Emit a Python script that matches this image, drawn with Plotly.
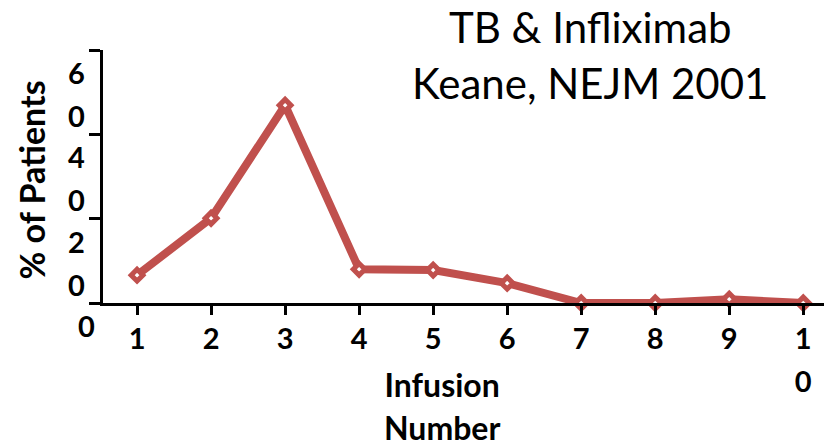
import plotly.graph_objects as go

# ---- data ----
infusion = [1, 2, 3, 4, 5, 6, 7, 8, 9, 10]
x_ticktext = ["1", "2", "3", "4", "5", "6", "7", "8", "9", "1<br>0"]
pct_patients = [6.6, 20.1, 46.9, 8.0, 7.8, 4.7, 0.0, 0.0, 0.9, 0.0]
y_tickvals = [0, 20, 40, 60]
y_ticktext = ["0", "2<br>0", "4<br>0", "6<br>0"]

title_lines = ["TB &amp; Infliximab", "Keane, NEJM 2001"]
x_title_lines = ["Infusion", "Number"]
y_title = "% of Patients"

RED = "#C0504D"
FONT = "Lato"


def spaced(lines, inner):
    return "<br>".join(f"<span style='font-size:{inner}px'>{l}</span>" for l in lines)


fig = go.Figure()
fig.add_trace(go.Scatter(
    x=infusion, y=pct_patients, mode="lines+markers",
    line=dict(color=RED, width=8),
    marker=dict(symbol="diamond", size=9, color="white",
                line=dict(color=RED, width=5)),
    cliponaxis=False, showlegend=False,
))

tick_font_outer = 33
tick_font_inner = 29

fig.update_layout(
    width=824, height=447,
    margin=dict(l=103, r=0, t=50, b=144),
    paper_bgcolor="white", plot_bgcolor="white",
    font=dict(family=FONT, color="black"),
    xaxis=dict(
        range=[0.54, 10.28],
        tickvals=infusion,
        ticktext=[spaced(t.split("<br>"), tick_font_inner) for t in x_ticktext],
        tickfont=dict(family=FONT, size=tick_font_outer, color="black", weight="bold"),
        showline=True, linecolor="black", linewidth=3,
        ticks="outside", ticklen=9, tickwidth=3, tickcolor="black",
        showgrid=False, zeroline=False, ticklabelstandoff=-6,
    ),
    yaxis=dict(
        range=[0, 60],
        tickvals=y_tickvals,
        showticklabels=False,
        showline=True, linecolor="black", linewidth=3,
        ticks="outside", ticklen=11, tickwidth=3, tickcolor="black",
        showgrid=False, zeroline=False,
    ),
)

annotations = []
for v, t in zip(y_tickvals, y_ticktext):
    lines = t.split("<br>")
    annotations.append(dict(
        xref="paper", yref="y", x=0, y=v,
        xanchor="right", yanchor="top",
        xshift=-16 if len(lines) > 1 else -6, yshift=-3,
        text=spaced(lines, tick_font_inner), showarrow=False,
        font=dict(family=FONT, size=tick_font_outer, color="black", weight="bold"),
    ))

# x-axis title
annotations.append(dict(
    xref="paper", yref="paper", x=(442 - 103) / (824 - 103), y=0,
    xanchor="center", yanchor="top", yshift=-60,
    text=spaced(x_title_lines, 32), showarrow=False,
    font=dict(family=FONT, size=33, color="black", weight="bold"),
))
# y-axis title
annotations.append(dict(
    xref="paper", yref="paper", x=0, y=0.5,
    xanchor="center", yanchor="middle", xshift=-72, yshift=-4,
    text=y_title, textangle=-90, showarrow=False,
    font=dict(family=FONT, size=34, color="black", weight="bold"),
))
# chart title
annotations.append(dict(
    xref="paper", yref="paper", x=(590 - 103) / (824 - 103), y=1,
    xanchor="center", yanchor="bottom", yshift=-60,
    text=spaced(title_lines, 42), showarrow=False,
    font=dict(family=FONT, size=43, color="black"),
))
fig.update_layout(annotations=annotations)

fig.write_html("out.html")
